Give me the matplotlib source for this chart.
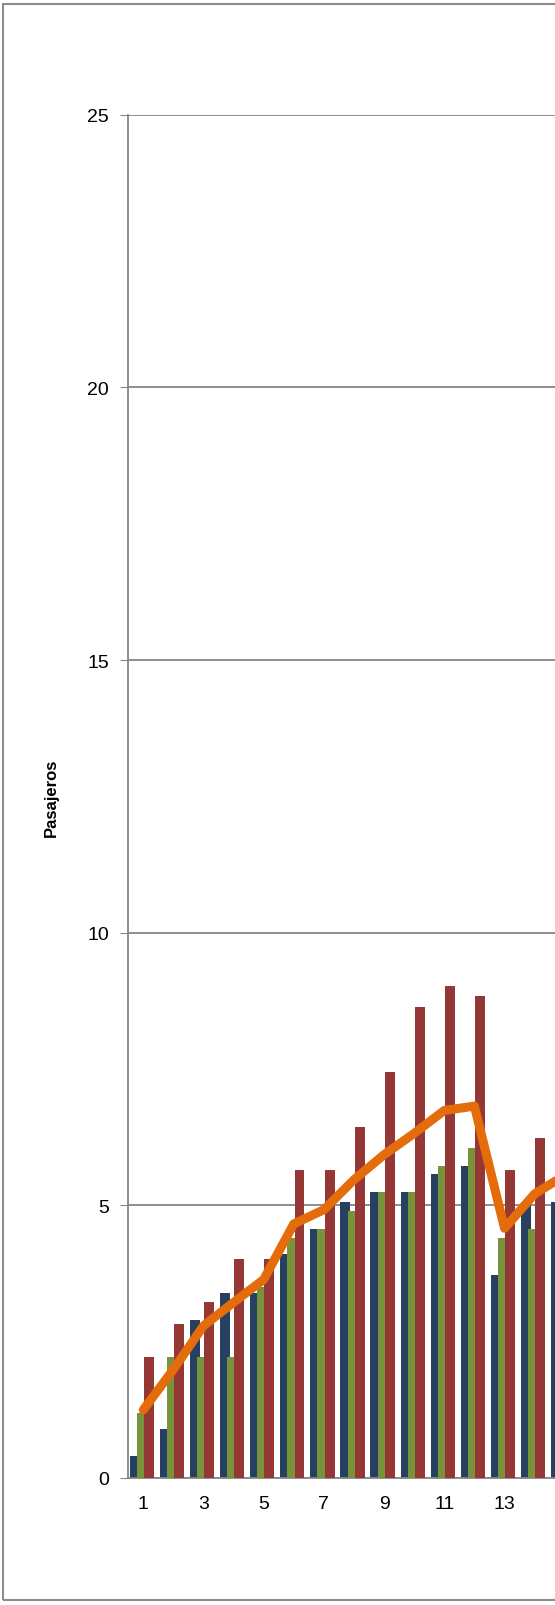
import matplotlib.pyplot as plt
import numpy as np
from matplotlib.patches import Rectangle

cats = list(range(1, 16))
blue = [0.4, 0.9, 2.9, 3.4, 3.4, 4.1, 4.56, 5.07, 5.24, 5.24, 5.57, 5.72, 3.73, 5.06, 5.06]
green = [1.2, 2.22, 2.22, 2.22, 3.5, 4.4, 4.56, 4.89, 5.24, 5.24, 5.72, 6.06, 4.4, 4.56, 4.6]
red = [2.22, 2.83, 3.23, 4.02, 4.02, 5.64, 5.64, 6.43, 7.44, 8.63, 9.03, 8.83, 5.64, 6.23, 6.0]
avg = [1.25, 1.99, 2.79, 3.22, 3.64, 4.66, 4.92, 5.47, 5.93, 6.32, 6.74, 6.82, 4.58, 5.21, 5.55]
xticks = [1, 3, 5, 7, 9, 11, 13]

W, H = 555, 1606
fig = plt.figure(figsize=(W / 100, H / 100), dpi=100)
fig.patches.append(Rectangle((3 / W, 0.003), 1.2, 0.994, transform=fig.transFigure,
                             fill=False, edgecolor='#8c8c8c', lw=1.5))

left = 0.231
bottom = 1 - 1444 / 1568
top = 1 - 113 / 1568
width = 15 * 29.4 / 542
ax = fig.add_axes([left, bottom, width, top - bottom])

x = np.array(cats)
w = 0.33
ax.bar(x - 0.29, blue, w, color='#264061', zorder=2)
ax.bar(x - 0.05, green, w, color='#77933C', zorder=3)
ax.bar(x + 0.19, red, w, color='#953735', zorder=4)
ax.plot(x, avg, color='#E46C0A', lw=6.5, solid_joinstyle='round', solid_capstyle='round', zorder=5)

ax.set_xlim(0.5, 15.5)
ax.set_ylim(0, 25)
ax.set_yticks([0, 5, 10, 15, 20, 25])
ax.set_xticks(xticks)
ax.yaxis.grid(True, color='#868686', lw=1.3, zorder=0)
ax.set_axisbelow(True)
for s in ['top', 'right']:
    ax.spines[s].set_visible(False)
for s in ['left', 'bottom']:
    ax.spines[s].set_color('#868686')
    ax.spines[s].set_linewidth(1.3)
ax.tick_params(axis='y', length=6, color='#868686', labelsize=14, pad=8)
ax.tick_params(axis='x', length=0, labelsize=14, pad=12)
for t in ax.get_xticklabels() + ax.get_yticklabels():
    t.set_fontfamily('Liberation Sans')
ax.set_ylabel('Pasajeros', fontsize=12, fontweight='bold', labelpad=20, fontfamily='Liberation Sans')

fig.savefig('out.png', dpi=100)
